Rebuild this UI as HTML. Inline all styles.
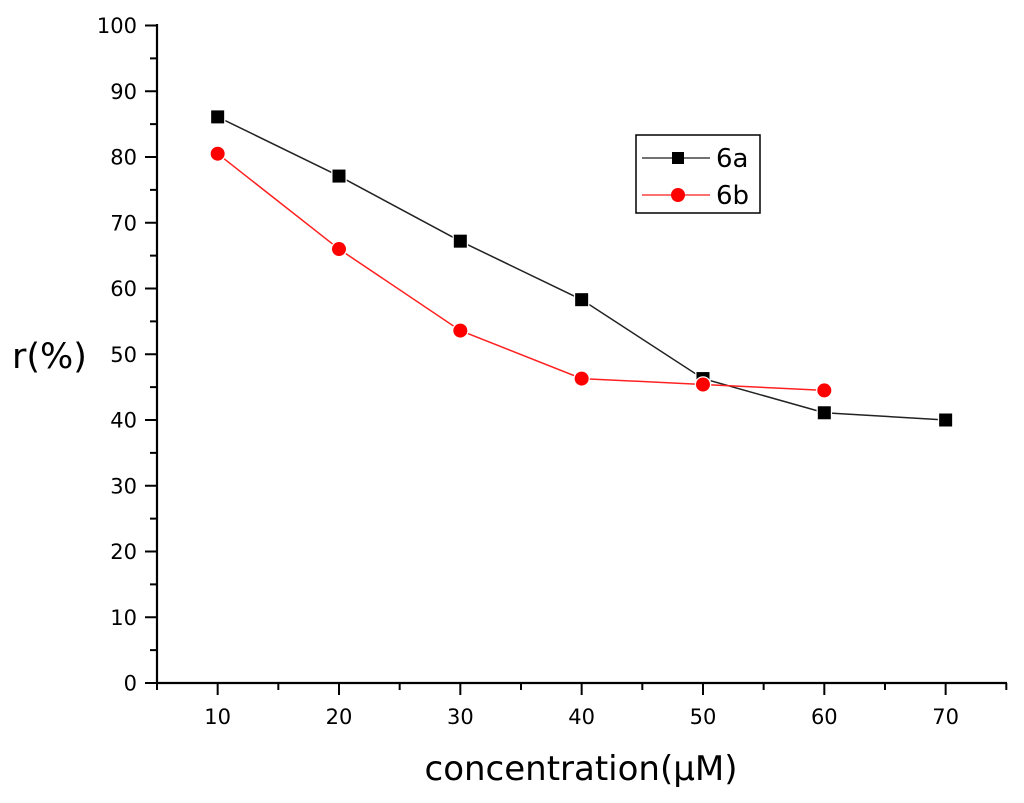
<!DOCTYPE html>
<html><head><meta charset="utf-8"><style>body{margin:0;background:#fff}svg{display:block}text{font-family:"DejaVu Sans","Liberation Sans",sans-serif}</style></head>
<body>
<svg id="c" width="1024" height="803"></svg>
<script>
const xCats=[10,20,30,40,50,60,70];
const series6a=[86.1,77.1,67.2,58.3,46.3,41.1,40.0];
const series6b=[80.5,66.0,53.6,46.3,45.4,44.5];
const yTicks=[0,10,20,30,40,50,60,70,80,90,100];
const xTicks=[10,20,30,40,50,60,70];
const NS='http://www.w3.org/2000/svg',svg=document.getElementById('c');
const X=v=>157+(v-5)*121.33/10, Y=v=>683-v*6.575;
function el(t,a,p){const e=document.createElementNS(NS,t);for(const k in a)e.setAttribute(k,a[k]);(p||svg).appendChild(e);return e;}
const ax=el('g',{});
el('line',{x1:157,y1:24,x2:157,y2:684,stroke:'#000','stroke-width':2.2},ax);
el('line',{x1:156,y1:683,x2:1007,y2:683,stroke:'#000','stroke-width':2.2},ax);
yTicks.forEach((v,i)=>{el('line',{x1:145,x2:157,y1:Y(v),y2:Y(v),stroke:'#000','stroke-width':2},ax);
 if(i<yTicks.length-1)el('line',{x1:150,x2:157,y1:Y(v+5),y2:Y(v+5),stroke:'#000','stroke-width':2},ax);
 const t=el('text',{x:137,y:Y(v)+7.5,'text-anchor':'end','font-size':21},ax);t.textContent=v;
 });
for(let v=5;v<=75;v+=5){const maj=v%10==0;el('line',{x1:X(v),x2:X(v),y1:683,y2:maj?695:690,stroke:'#000','stroke-width':2},ax);}
xTicks.forEach(v=>{const t=el('text',{x:X(v),y:724,'text-anchor':'middle','font-size':21},ax);t.textContent=v;
 });
const xt=el('text',{x:581,y:780,'text-anchor':'middle','font-size':34});xt.textContent='concentration(μM)';

const yt=el('text',{x:12,y:368,'font-size':35});yt.textContent='r(%)';

function draw(vals,col,lc,shape,name){const g=el('g',{});
 el('polyline',{points:vals.map((v,i)=>X(xCats[i])+','+Y(v)).join(' '),fill:'none',stroke:lc,'stroke-width':1.5},g);
 vals.forEach((v,i)=>{let m;if(shape=='sq')m=el('rect',{x:X(xCats[i])-6.5,y:Y(v)-6.5,width:13,height:13,fill:col,stroke:'#fff','stroke-width':2.5,'paint-order':'stroke'},g);
  else m=el('circle',{cx:X(xCats[i]),cy:Y(v),r:7,fill:col,stroke:'#fff','stroke-width':2.5,'paint-order':'stroke'},g);
  });}
draw(series6a,'#000','#222','sq','series-6a');
draw(series6b,'#ff0000','#ff2020','ci','series-6b');
const lg=el('g',{});
el('rect',{x:636,y:135,width:124,height:78,fill:'#fff',stroke:'#000','stroke-width':1.5},lg);
el('line',{x1:642,x2:710,y1:158,y2:158,stroke:'#444','stroke-width':1.5},lg);
el('rect',{x:672,y:152,width:12,height:12,fill:'#000'},lg);
el('line',{x1:642,x2:710,y1:195,y2:195,stroke:'#ff4040','stroke-width':1.5},lg);
el('circle',{cx:678,cy:195,r:7,fill:'#ff0000'},lg);
let t=el('text',{x:716,y:167,'font-size':26},lg);t.textContent='6a';
t=el('text',{x:716,y:204,'font-size':26},lg);t.textContent='6b';
</script>
</body></html>
